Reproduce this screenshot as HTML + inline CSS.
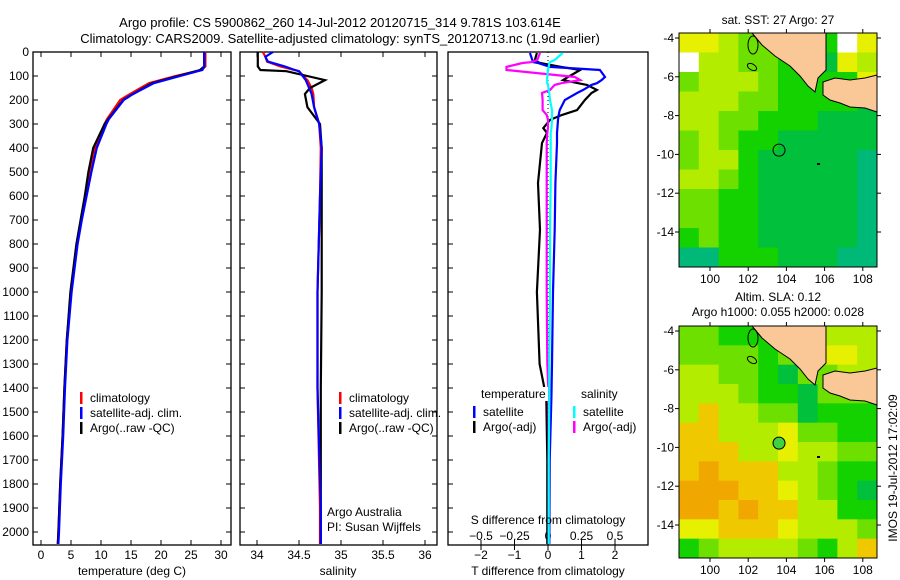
<!DOCTYPE html>
<html><head><meta charset="utf-8"><style>
body{margin:0;background:#fff}
svg{display:block;font-family:"Liberation Sans",sans-serif}
text{font-size:12px;fill:#000}
</style></head><body>
<svg id="c" width="900" height="580">
<text x="340" y="27" text-anchor="middle" style="font-size:13px">Argo profile: CS 5900862_260 14-Jul-2012 20120715_314 9.781S 103.614E</text>
<text x="340" y="43" text-anchor="middle" style="font-size:13px">Climatology: CARS2009. Satellite-adjusted climatology: synTS_20120713.nc (1.9d earlier)</text>
<text x="778" y="24" text-anchor="middle">sat. SST: 27 Argo: 27</text>
<text x="778" y="301" text-anchor="middle">Altim. SLA: 0.12</text>
<text x="778" y="316" text-anchor="middle">Argo h1000: 0.055 h2000: 0.028</text>
<text transform="translate(897,468) rotate(-90)" text-anchor="middle">IMOS 19-Jul-2012 17:02:09</text>
</svg>
<script>
// ---- profile data (depth in m) ----
const tClimDepth=[0,60,75,100,130,180,200,280,300,400,500,600,700,800,900,1000,1200,1400,1600,1800,2000,2050];
const tClim=[27.4,27.4,26.8,22.5,18,14.5,13.2,11,10.6,9,8.2,7.4,6.7,6,5.5,5,4.3,3.9,3.6,3.2,2.9,2.8];
const tSat=[27.2,27.2,26.9,23.2,18.8,15,13.8,11.3,10.9,9.3,8.4,7.6,6.8,6.1,5.6,5.1,4.4,4,3.7,3.3,3,2.9];
const tArgo=[27.2,27.2,26.5,22.8,18.5,15,13.7,11.2,10.6,8.7,7.9,7.3,6.6,5.9,5.4,4.9,4.3,3.9,3.6,3.2,2.9,2.8];
const sDepth=[0,20,40,60,75,80,117,150,175,230,300,400,600,1000,1400,1900,2050];
const sClim=[34.07,34.1,34.12,34.28,34.45,34.5,34.6,34.65,34.67,34.68,34.74,34.76,34.75,34.72,34.72,34.75,34.75];
const sSat=[34.19,34.1,34.13,34.33,34.45,34.5,34.58,34.62,34.65,34.68,34.74,34.77,34.75,34.72,34.72,34.76,34.76];
const sArgo=[34.01,34.01,34.01,34.01,34.04,34.35,34.81,34.63,34.57,34.6,34.75,34.77,34.77,34.77,34.76,34.76,34.76];
const dDepth=[4,33,42,46,62,75,104,117,130,137,158,171,200,242,262,283,317,337,379,546,740,1000,1300,1440,1700,2050];
const dTSat=[-0.54,-0.47,-0.45,-0.3,0.06,1.55,1.7,1.6,1.46,1.3,1.05,0.87,0.5,0.35,0.32,0.3,0.28,0.27,0.27,0.22,0.2,0.15,0.12,0.1,0.05,0.04];
const dTArgo=[-0.33,-0.39,-0.3,-0.24,0.4,0.96,0.6,0.45,0.9,1.16,1.46,1.3,1.1,0.87,0.42,0.06,-0.14,-0.03,-0.18,-0.3,-0.24,-0.33,-0.25,-0.05,-0.02,-0.02];
const dSSat=[0.11,0.05,0.015,0.01,0.005,0.0,-0.005,-0.007,-0.005,0,0.005,0.01,0.015,0.03,0.03,0.03,0.025,0.02,0.02,0.02,0.015,0.015,0.01,0.01,0.005,0.005];
const dSArgo=[-0.06,-0.08,-0.12,-0.19,-0.31,-0.31,0.2,0.24,0.1,0.05,0.015,-0.045,-0.04,-0.04,-0.01,0,0,-0.005,-0.01,-0.01,-0.01,-0.01,-0.005,0.005,0.005,0.005];
const depthTicks=[0,100,200,300,400,500,600,700,800,900,1000,1100,1200,1300,1400,1500,1600,1700,1800,1900,2000];
const tTicks=[0,5,10,15,20,25,30];
const sTicks=[34,34.5,35,35.5,36];
const sLabels=["34","34.5","35","35.5","36"];
const dTTicks=[-2,-1,0,1,2];
const dSTicks=[-0.5,-0.25,0,0.25,0.5];
const dSLabels=["\u22120.5","\u22120.25","0","0.25","0.5"];
const lonTicks=[100,102,104,106,108];
const latTicks=[-4,-6,-8,-10,-12,-14];
// map grids (palette codes)
const sstGrid=["aabccdddwa","wbbccddeab","cbbbcdddda","bbbccdddde","bbccdddeee","cbcddeeeee","cbbdeeeeef","bbcdeeeeef","ccddeeeeef","ccddeeeeef","dcddeeeeef","ffdddeeeff"];
const slaGrid=["ccdddccbbb","ccccdcdaab","bbccdeccbb","bbbcddeccc","bpbbcceddd","ppbbbaccdd","pppbbabbcc","popppbbcdd","oooppabcde","oopoppbbdd","aapppabbbc","dcbbbbcdbp"];
const argoLon=103.614, argoLat=-9.781;

const NS="http://www.w3.org/2000/svg";
const svg=document.getElementById('c');
function mk(tag,attrs,parent){const e=document.createElementNS(NS,tag);for(const k in attrs)e.setAttribute(k,attrs[k]);(parent||svg).appendChild(e);return e;}
function txt(x,y,s,anchor,parent){const t=mk('text',{x:x,y:y,'text-anchor':anchor||'middle'},parent);t.textContent=s;return t;}
const Y0=52,Y1=545;
const yD=d=>Y0+d*0.24;
function panel(x0,x1,name){
  const g=mk('g',{});
  
  
  return g;
}
function frame(g,x0,x1){mk('rect',{x:x0,y:Y0,width:x1-x0,height:Y1-Y0,fill:'none',stroke:'#000','stroke-width':1.3},g);}
function line(g,xs,ds,xf,color,w){
  const p=xs.map((v,i)=>xf(v).toFixed(1)+','+yD(ds[i]).toFixed(1)).join(' ');
  const e=mk('polyline',{points:p,fill:'none',stroke:color,'stroke-width':w||2.2},g);
  return e;
}
function yTicks(g,x0,x1,labels){
  depthTicks.forEach(d=>{const y=yD(d);
    mk('line',{x1:x0,x2:x0+5,y1:y,y2:y,stroke:'#000'},g);
    mk('line',{x1:x1,x2:x1-5,y1:y,y2:y,stroke:'#000'},g);
    if(labels){const t=txt(29,y+4,String(d),'end',g);}
  });
}
function xTicks(g,ticks,labs,xf,top){
  ticks.forEach((v,i)=>{const x=xf(v);
    mk('line',{x1:x,x2:x,y1:Y1,y2:Y1-5,stroke:'#000'},g);
    if(top)mk('line',{x1:x,x2:x,y1:Y0,y2:Y0+5,stroke:'#000'},g);
    const t=txt(x,559,labs[i],'middle',g);});
}
function legend(g,x,y,items){
  items.forEach((it,i)=>{const yy=y+i*15;
    mk('rect',{x:x,y:yy-10,width:2.5,height:12,fill:it[1]},g);
    const t=txt(x+10,yy,it[0],'start',g);});
}
// Panel 1 temperature
{const x0=33,x1=231,xf=v=>41+v*6;
 const g=panel(x0,x1,'temperature-panel');
 frame(g,x0,x1);yTicks(g,x0,x1,true);xTicks(g,tTicks,tTicks.map(String),xf,true);
 line(g,tClim,tClimDepth,xf,'#f00');
 line(g,tArgo,tClimDepth,xf,'#000');
 line(g,tSat,tClimDepth,xf,'#00f');
 const t=txt(132,575,'temperature (deg C)','middle',g);
 legend(g,80,402,[['climatology','#f00'],['satellite-adj. clim.','#00f'],['Argo(..raw -QC)','#000']]);
}
// Panel 2 salinity
{const x0=240,x1=437,xf=v=>257+(v-34)*84;
 const g=panel(x0,x1,'salinity-panel');
 frame(g,x0,x1);yTicks(g,x0,x1,false);xTicks(g,sTicks,sLabels,xf,true);
 line(g,sClim,sDepth,xf,'#f00');
 line(g,sArgo,sDepth,xf,'#000');
 line(g,sSat,sDepth,xf,'#00f');
 const t=txt(338,575,'salinity','middle',g);
 legend(g,339,402,[['climatology','#f00'],['satellite-adj. clim.','#00f'],['Argo(..raw -QC)','#000']]);
 const a=txt(327,516,'Argo Australia','start',g);
 const b=txt(327,531,'PI: Susan Wijffels','start',g);
}
// Panel 3 differences
{const x0=448,x1=648,xf=v=>548+v*33.5,sf=v=>548+v*134;
 const g=panel(x0,x1,'difference-panel');
 frame(g,x0,x1);
 depthTicks.forEach(d=>{const y=yD(d);mk('line',{x1:x0,x2:x0+5,y1:y,y2:y,stroke:'#000'},g);});
 dTTicks.forEach(v=>{const x=xf(v);mk('line',{x1:x,x2:x,y1:Y1,y2:Y1+5,stroke:'#000'},g);const t=txt(x,559,v<0?'\u2212'+(-v):String(v),'middle',g);});
 dSTicks.forEach((v,i)=>{const x=sf(v);mk('line',{x1:x,x2:x,y1:Y1,y2:Y1-5,stroke:'#000'},g);const t=txt(x,540,dSLabels[i],'middle',g);});
 mk('line',{x1:548,x2:548,y1:Y0,y2:Y1,stroke:'#000','stroke-dasharray':'1,3'},g);
 line(g,dTArgo,dDepth,xf,'#000');
 line(g,dTSat,dDepth,xf,'#00f');
 line(g,dSArgo,dDepth,sf,'#f0f');
 line(g,dSSat,dDepth,sf,'#0ff');
 mk('rect',{x:478,y:387,width:70,height:14,fill:'#fff'},g);
 const t1=txt(481,398,'temperature','start',g);
 const t2=txt(581,398,'salinity','start',g);
 legend(g,473,416,[['satellite','#00f'],['Argo(-adj)','#000']]);
 legend(g,573,416,[['satellite','#0ff'],['Argo(-adj)','#f0f']]);
 const s=txt(548,524,'S difference from climatology','middle',g);
 const tt=txt(548,575,'T difference from climatology','middle',g);
}
// Maps
const pal={a:'#e6f000',b:'#b4ec00',c:'#6ee000',d:'#14d200',e:'#00c03c',f:'#00b878',p:'#f0c800',o:'#f0a800',w:'#ffffff'};
function map(y0,y1,grid,name,filled){
  const x0=679,x1=877,lonf=v=>710+(v-100)*19.1,latf=v=>y0+5+(-4-v)*19.4;
  const g=mk('g',{});
  
  
  const rows=grid.length,cols=grid[0].length,cw=(x1-x0)/cols,ch=(y1-y0)/rows;
  grid.forEach((r,i)=>{for(let j=0;j<cols;j++){mk('rect',{x:x0+j*cw,y:y0+i*ch,width:cw+0.5,height:ch+0.5,fill:pal[r[j]]},g);}});
  const o=y0-33;
  const sum=[[752,33],[826,33],[826,70],[818,78],[815,92],[808,86],[800,76],[790,66],[775,56],[762,45]];
  const jav=[[823,82],[835,78],[850,80],[865,78],[877,75],[877,112],[865,108],[850,107],[840,103],[830,100],[823,95]];
  [sum,jav].forEach(P=>mk('polygon',{points:P.map(p=>p[0]+','+(p[1]+o)).join(' '),fill:'#fac896',stroke:'#000','stroke-width':1},g));
  mk('ellipse',{cx:753,cy:45+o,rx:5,ry:9,fill:'none',stroke:'#000'},g);
  mk('ellipse',{cx:752,cy:67+o,rx:5,ry:3,fill:'none',stroke:'#000',transform:'rotate(30 752 '+(67+o)+')'},g);
  mk('rect',{x:817,y:163+o,width:3,height:2,fill:'#000'},g);
  const c=mk('circle',{cx:lonf(argoLon),cy:latf(argoLat),r:6,fill:filled?'#40d040':'none',stroke:'#000'},g);
  
  mk('rect',{x:x0,y:y0,width:x1-x0,height:y1-y0,fill:'none',stroke:'#000'},g);
  lonTicks.forEach(v=>{const x=lonf(v);mk('line',{x1:x,x2:x,y1:y0,y2:y0-4,stroke:'#000'},g);mk('line',{x1:x,x2:x,y1:y1,y2:y1+4,stroke:'#000'},g);
    const t=txt(x,y1+16,String(v),'middle',g);});
  latTicks.forEach(v=>{const y=latf(v);mk('line',{x1:x0,x2:x0-4,y1:y,y2:y,stroke:'#000'},g);mk('line',{x1:x1,x2:x1+4,y1:y,y2:y,stroke:'#000'},g);
    const t=txt(674,y+4,String(v),'end',g);});
}
map(33,267,sstGrid,'sst-map',false);
map(326,558,slaGrid,'sla-map',true);
</script>
</body></html>
